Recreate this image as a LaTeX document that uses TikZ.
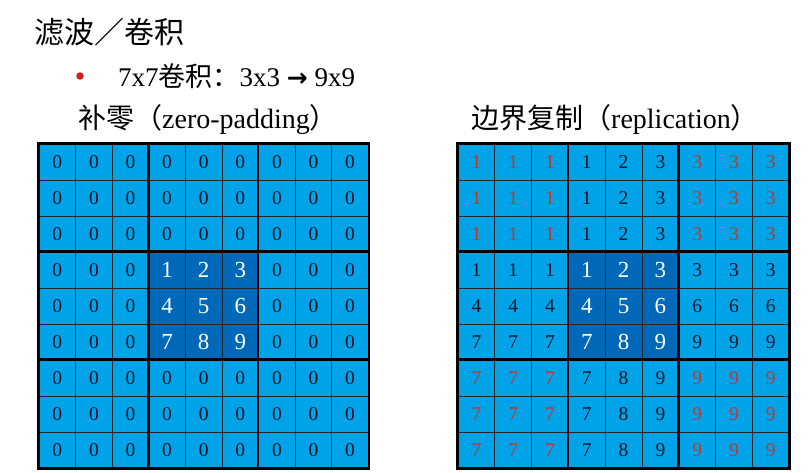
\documentclass[tikz,border=0pt]{standalone}
\usepackage{fontspec}
\setmainfont{Liberation Serif}
\newfontfamily\cjk{Noto Sans CJK SC}
\newfontfamily\symf{DejaVu Sans}
\definecolor{cellblue}{HTML}{00A2E8}
\definecolor{cellcore}{HTML}{0068B8}
\definecolor{digitdark}{HTML}{0A1628}
\definecolor{digitred}{HTML}{C0392B}
\definecolor{bulletred}{HTML}{D02020}
\begin{document}
\begin{tikzpicture}[x=1pt,y=-1pt,
  cellbox/.style={draw=black!85, line width=0.8pt, fill=cellblue, minimum width=36.6pt, minimum height=36pt, inner sep=0pt, font=\fontsize{19.5}{19.5}\selectfont, text=digitdark, anchor=center},
  corecell/.style={fill=cellcore, text=white, font=\fontsize{23}{23}\selectfont},
  redcell/.style={text=digitred},
  blockline/.style={draw=black, line width=2.4pt},
  labeltext/.style={anchor=base west, inner sep=0pt, font=\fontsize{28}{28}\selectfont}]
\useasboundingbox (0,0) rectangle (808,472);
\fill[white] (0,0) rectangle (808,472);

\node[anchor=base west, inner sep=0pt, font=\cjk\fontsize{30}{30}\selectfont] (title) at (34,43) {滤波／卷积};
\node[circle, fill=bulletred, inner sep=0pt, minimum size=7.5pt] (bullet) at (80,76) {};
\node[labeltext, font=\fontsize{27}{27}\selectfont] (sub) at (118,86) {7x7{\cjk 卷积：}3x3 {\symf\bfseries\fontsize{25}{25}\selectfont →} 9x9};
\node[labeltext] (lblL) at (78,128) {{\cjk 补零（}zero-padding{\cjk ）}};
\node[labeltext] (lblR) at (471,128) {{\cjk 边界复制（}replication{\cjk ）}};

% left grid: zero padding
\foreach \r in {0,...,8}{
  \foreach \c in {0,...,8}{
    \pgfmathtruncatemacro\inr{(\r>2)&&(\r<6)}
    \pgfmathtruncatemacro\inc{(\c>2)&&(\c<6)}
    \pgfmathtruncatemacro\core{\inr*\inc}
    \pgfmathtruncatemacro\val{\core*(3*(\r-3)+(\c-3)+1)}
    \ifnum\core=1
      \node[cellbox, corecell] (L-\r-\c) at ({39+36.6*(\c+0.5)},{144+36*(\r+0.5)}) {\val};
    \else
      \node[cellbox] (L-\r-\c) at ({39+36.6*(\c+0.5)},{144+36*(\r+0.5)}) {\val};
    \fi
  }
}
% right grid: replication
\foreach \r in {0,...,8}{
  \foreach \c in {0,...,8}{
    \pgfmathtruncatemacro\inr{(\r>2)&&(\r<6)}
    \pgfmathtruncatemacro\inc{(\c>2)&&(\c<6)}
    \pgfmathtruncatemacro\core{\inr*\inc}
    \pgfmathtruncatemacro\edge{\inr+\inc}
    \pgfmathtruncatemacro\rr{min(max(\r-3,0),2)}
    \pgfmathtruncatemacro\cc{min(max(\c-3,0),2)}
    \pgfmathtruncatemacro\val{3*\rr+\cc+1}
    \ifnum\core=1
      \node[cellbox, corecell, minimum width=36.8pt] (R-\r-\c) at ({458+36.8*(\c+0.5)},{144+36*(\r+0.5)}) {\val};
    \else\ifnum\edge=1
      \node[cellbox, minimum width=36.8pt] (R-\r-\c) at ({458+36.8*(\c+0.5)},{144+36*(\r+0.5)}) {\val};
    \else
      \node[cellbox, redcell, minimum width=36.8pt] (R-\r-\c) at ({458+36.8*(\c+0.5)},{144+36*(\r+0.5)}) {\val};
    \fi\fi
  }
}
% block lines
\foreach \g in {L,R}{
  \draw[blockline] (\g-0-0.north west) rectangle (\g-8-8.south east);
  \draw[blockline] (\g-0-3.north west) -- (\g-8-3.south west);
  \draw[blockline] (\g-0-6.north west) -- (\g-8-6.south west);
  \draw[blockline] (\g-3-0.north west) -- (\g-3-8.north east);
  \draw[blockline] (\g-6-0.north west) -- (\g-6-8.north east);
}
\end{tikzpicture}
\end{document}
